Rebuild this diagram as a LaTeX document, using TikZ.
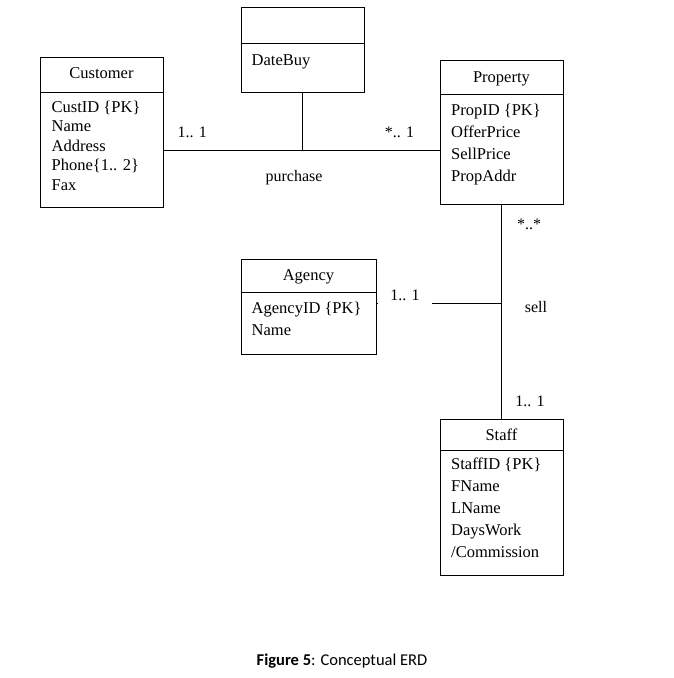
\documentclass[tikz,border=0pt]{standalone}
\usepackage{fontspec}
\setmainfont{Liberation Serif}
\newfontfamily\capfont{Carlito}
\usetikzlibrary{positioning}
\newcommand{\attrlist}[1]{\begin{tabular}[t]{@{}l@{}}#1\end{tabular}}

\tikzset{
	entity/.style={draw, line width=0.9pt, rectangle, inner sep=0pt, anchor=north west},
	divider/.style={line width=0.9pt},
	etitle/.style={anchor=base, inner sep=0pt, font=\fontsize{16.5}{20}\selectfont},
	eattr/.style={anchor=base west, inner sep=0pt, font=\fontsize{16.5}{#1}\selectfont},
	link/.style={line width=0.9pt},
	mult/.style={anchor=base, inner sep=0pt, font=\fontsize{16}{18}\selectfont},
}

\begin{document}
\begin{tikzpicture}[x=1pt,y=-1pt]
			%%%%% START %%%%%
			\useasboundingbox (0,0) rectangle (673,678);
			
			% customer
			\node[entity, minimum width=123pt, minimum height=150pt] (customer) at (39.5,57) {};
			\draw[divider] ([yshift=-35.5pt]customer.north west) -- ([yshift=-35.5pt]customer.north east);
			\node[etitle] (customertitle) at ([yshift=-21pt]customer.north) {Customer};
			\node[eattr=19.5] (customerattr) at ([xshift=12pt,yshift=-55pt]customer.north west) {\attrlist{CustID \{PK\}\\Name\\Address\\Phone\{1.. 2\}\\Fax}};
			
			% purchase attribute box
			\node[entity, minimum width=123pt, minimum height=85pt] (datebuy) at (240.5,7) {};
			\draw[divider] ([yshift=-36pt]datebuy.north west) -- ([yshift=-36pt]datebuy.north east);
			\node[eattr=20] (datebuyattr) at ([xshift=11pt,yshift=-58pt]datebuy.north west) {DateBuy};
			
			% property
			\node[entity, minimum width=123pt, minimum height=144.5pt] (property) at (439.5,59.5) {};
			\draw[divider] ([yshift=-35pt]property.north west) -- ([yshift=-35pt]property.north east);
			\node[etitle] (propertytitle) at ([yshift=-22.5pt]property.north) {Property};
			\node[eattr=22] (propertyattr) at ([xshift=11.5pt,yshift=-56pt]property.north west) {\attrlist{PropID \{PK\}\\OfferPrice\\SellPrice\\PropAddr}};
			
			% agency
			\node[entity, minimum width=135pt, minimum height=95pt] (agency) at (240.5,258.5) {};
			\draw[divider] ([yshift=-34pt]agency.north west) -- ([yshift=-34pt]agency.north east);
			\node[etitle] (agencytitle) at ([yshift=-21.5pt]agency.north) {Agency};
			\node[eattr=22] (agencyattr) at ([xshift=11pt,yshift=-55pt]agency.north west) {\attrlist{AgencyID \{PK\}\\Name}};
			
			% staff
			\node[entity, minimum width=123pt, minimum height=156pt] (staff) at (439.5,418.5) {};
			\draw[divider] ([yshift=-31.5pt]staff.north west) -- ([yshift=-31.5pt]staff.north east);
			\node[etitle] (stafftitle) at ([yshift=-22pt]staff.north) {Staff};
			\node[eattr=22] (staffattr) at ([xshift=11.5pt,yshift=-50.5pt]staff.north west) {\attrlist{StaffID \{PK\}\\FName\\LName\\DaysWork\\/Commission}};
			
			% purchase
			\coordinate (purchaseline) at ([yshift=-18pt]customer.east);
			\draw[link] (purchaseline) -- (purchaseline -| property.west);
			\draw[link] (datebuy.south) -- (datebuy.south |- purchaseline);
			\node[mult] (custmult) at (192.3,137.5) {1.. 1};
			\node[mult] (propmult) at (399.5,137.5) {*.. 1};
			\node[mult] (purchaselabel) at (294,181.5) {purchase};
			
			% sell
			\draw[link] (property.south) -- (staff.north);
			\coordinate (sellline) at ([yshift=3pt]agency.east);
			\draw[link] (sellline) -- (sellline -| staff.north);
			\node[mult, fill=white, minimum width=54pt, minimum height=20pt] (agencymult) at (405,300) {1.. 1};
			\node[mult] (propsellmult) at (529,229) {*..*};
			\node[mult] (selllabel) at (536,312) {sell};
			\node[mult] (staffmult) at (530,406.5) {1.. 1};
			
			% caption
			\node[anchor=base, inner sep=0pt, font=\capfont\fontsize{16.5}{18}\selectfont] (caption) at (342,665.5) {\textbf{Figure 5}: Conceptual ERD};
			
			%%%%% END %%%%%
\end{tikzpicture}
\end{document}
